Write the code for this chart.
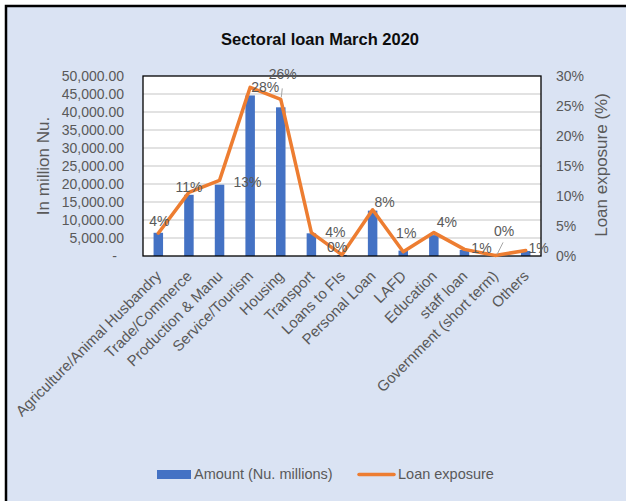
<!DOCTYPE html>
<html>
<head>
<meta charset="utf-8">
<script src="https://cdn.jsdelivr.net/npm/d3@7"></script>
<style>
  body { margin: 0; background: #fff; }
  svg { display: block; font-family: "Liberation Sans", Arial, sans-serif; }
</style>
</head>
<body>
<div class="wrapper"></div>
<script>
var categories = [
  "Agriculture/Animal Husbandry",
  "Trade/Commerce",
  "Production & Manu",
  "Service/Tourism",
  "Housing",
  "Transport",
  "Loans to FIs",
  "Personal Loan",
  "LAFD",
  "Education",
  "staff loan",
  "Government (short term)",
  "Others"
];
// Amount in Nu. millions (bars, left axis)
var amounts = [6450, 17000, 19800, 44600, 41300, 6300, 300, 12600, 1500, 5800, 1700, 100, 1400];
// Loan exposure in % (line, right axis)
var exposure = [3.8, 10.6, 12.6, 28.1, 26.1, 3.9, 0.2, 7.7, 0.7, 3.9, 1.1, 0.1, 0.9];
var amountTicks = d3.range(0, 50001, 5000);
var exposureTicks = d3.range(0, 31, 5);
var title = "Sectoral loan March 2020";
var seriesNames = ["Amount (Nu. millions)", "Loan exposure"];

// where Excel dropped each data label, relative to its point
var labelLayout = [
  { dx: 1, dy: -7 },
  { dx: 0, dy: 0 },
  { dx: 28, dy: 7 },
  { dx: 15, dy: 5 },
  { dx: 2, dy: -20, leader: [0.5, -2, 1.5, -11] },
  { dx: 24, dy: 4 },
  { dx: -5, dy: -3 },
  { dx: 12, dy: -3 },
  { dx: 3, dy: -14 },
  { dx: 13, dy: -6 },
  { dx: 17, dy: 4 },
  { dx: 9, dy: -19, leader: [2, -1, 8, -13] },
  { dx: 13, dy: 2 }
];

var width = 626,
  height = 501;
var plot = { left: 143, top: 76, right: 541, bottom: 256 };
var colors = { bar: "#4472c4", line: "#ed7d31", text: "#595959", grid: "#d9d9d9" };

var svg, x, yAmount, yExposure;

function initChart() {
  svg = d3
    .select(".wrapper")
    .append("svg")
    .attr("width", width)
    .attr("height", height);

  // chart area background + border (right/bottom edge run off the picture)
  svg
    .append("rect")
    .attr("x", 6)
    .attr("y", 6)
    .attr("width", 700)
    .attr("height", 600)
    .attr("fill", "#dae3f3")
    .attr("stroke", "#000")
    .attr("stroke-width", 2.5);

  svg
    .append("text")
    .attr("x", 320)
    .attr("y", 45)
    .attr("text-anchor", "middle")
    .attr("font-size", 16.5)
    .attr("font-weight", "bold")
    .attr("fill", "#0d0d0d")
    .text(title);

  x = d3
    .scaleBand()
    .domain(categories)
    .range([plot.left, plot.right]);
  yAmount = d3
    .scaleLinear()
    .domain([0, 50000])
    .range([plot.bottom, plot.top]);
  yExposure = d3
    .scaleLinear()
    .domain([0, 30])
    .range([plot.bottom, plot.top]);

  svg
    .append("rect")
    .attr("x", plot.left)
    .attr("y", plot.top)
    .attr("width", plot.right - plot.left)
    .attr("height", plot.bottom - plot.top)
    .attr("fill", "#fff");

  // gridlines
  svg
    .append("g")
    .selectAll("line")
    .data(amountTicks.slice(1, -1))
    .enter()
    .append("line")
    .attr("x1", plot.left)
    .attr("x2", plot.right)
    .attr("y1", d => yAmount(d))
    .attr("y2", d => yAmount(d))
    .attr("stroke", colors.grid)
    .attr("stroke-width", 1.5);

  drawAxes();
  drawBars();

  svg
    .append("rect")
    .attr("x", plot.left)
    .attr("y", plot.top)
    .attr("width", plot.right - plot.left)
    .attr("height", plot.bottom - plot.top)
    .attr("fill", "none")
    .attr("stroke", "#000")
    .attr("stroke-width", 1.3);

  drawLine();
  drawLegend();
}

function drawAxes() {
  var left = svg
    .append("g")
    .attr("transform", `translate(${plot.left},0)`)
    .call(
      d3
        .axisLeft(yAmount)
        .tickValues(amountTicks)
        .tickSize(0)
        .tickPadding(19)
        .tickFormat(d => (d === 0 ? "-" : d3.format(",.2f")(d)))
    );
  left.select(".domain").remove();
  left
    .selectAll("text")
    .attr("fill", colors.text)
    .attr("font-size", 14)
    .attr("font-family", "Liberation Sans, Arial, sans-serif")
    .attr("dx", d => (d === 0 ? -7 : 0));

  var right = svg
    .append("g")
    .attr("transform", `translate(${plot.right},0)`)
    .call(
      d3
        .axisRight(yExposure)
        .tickValues(exposureTicks)
        .tickSize(0)
        .tickPadding(15)
        .tickFormat(d => d + "%")
    );
  right.select(".domain").remove();
  right
    .selectAll("text")
    .attr("fill", colors.text)
    .attr("font-size", 14)
    .attr("font-family", "Liberation Sans, Arial, sans-serif");

  svg
    .append("text")
    .attr("transform", "translate(49,166) rotate(-90)")
    .attr("text-anchor", "middle")
    .attr("font-size", 17)
    .attr("fill", colors.text)
    .text("In million Nu.");

  svg
    .append("text")
    .attr("transform", "translate(607,165) rotate(-90)")
    .attr("text-anchor", "middle")
    .attr("font-size", 17)
    .attr("fill", colors.text)
    .text("Loan exposure (%)");

  // category labels, rotated 45 degrees
  svg
    .append("g")
    .selectAll("text")
    .data(categories)
    .enter()
    .append("text")
    .attr(
      "transform",
      d => `translate(${x(d) + x.bandwidth() / 2 + 4},277) rotate(-45)`
    )
    .attr("text-anchor", "end")
    .attr("font-size", 15)
    .attr("fill", colors.text)
    .text(d => d);
}

function drawBars() {
  var bw = x.bandwidth() * 0.31;
  svg
    .append("g")
    .selectAll("rect")
    .data(amounts)
    .enter()
    .append("rect")
    .attr("x", (d, i) => x(categories[i]) + (x.bandwidth() - bw) / 2)
    .attr("y", d => yAmount(d))
    .attr("width", bw)
    .attr("height", d => plot.bottom - yAmount(d))
    .attr("fill", colors.bar);
}

function drawLine() {
  var cx = i => x(categories[i]) + x.bandwidth() / 2;
  var line = d3
    .line()
    .x((d, i) => cx(i))
    .y(d => yExposure(d));

  svg
    .append("path")
    .datum(exposure)
    .attr("d", line)
    .attr("fill", "none")
    .attr("stroke", colors.line)
    .attr("stroke-width", 3.5)
    .attr("stroke-linejoin", "round")
    .attr("stroke-linecap", "round");

  var labels = svg.append("g");
  exposure.forEach((d, i) => {
    var px = cx(i),
      py = yExposure(d),
      lay = labelLayout[i];
    if (lay.leader) {
      labels
        .append("line")
        .attr("x1", px + lay.leader[0])
        .attr("y1", py + lay.leader[1])
        .attr("x2", px + lay.leader[2])
        .attr("y2", py + lay.leader[3])
        .attr("stroke", "#a6a6a6")
        .attr("stroke-width", 1);
    }
    labels
      .append("text")
      .attr("x", px + lay.dx)
      .attr("y", py + lay.dy)
      .attr("text-anchor", "middle")
      .attr("font-size", 14)
      .attr("fill", colors.text)
      .text(d3.format(".0%")(d / 100));
  });
}

function drawLegend() {
  var legend = svg.append("g").attr("font-size", 14.5).attr("fill", colors.text);
  legend
    .append("rect")
    .attr("x", 157)
    .attr("y", 470)
    .attr("width", 34)
    .attr("height", 9)
    .attr("fill", colors.bar);
  legend
    .append("text")
    .attr("x", 194)
    .attr("y", 479)
    .text(seriesNames[0]);
  legend
    .append("line")
    .attr("x1", 359)
    .attr("x2", 394)
    .attr("y1", 474.5)
    .attr("y2", 474.5)
    .attr("stroke", colors.line)
    .attr("stroke-width", 3.5)
    .attr("stroke-linecap", "round");
  legend
    .append("text")
    .attr("x", 398)
    .attr("y", 479)
    .text(seriesNames[1]);
}

initChart();
</script>
</body>
</html>
